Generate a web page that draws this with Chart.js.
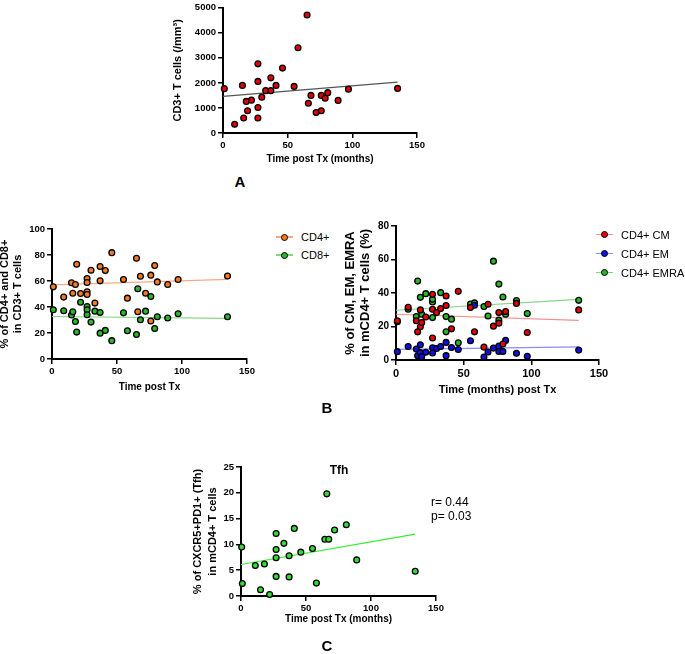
<!DOCTYPE html>
<html>
<head>
<meta charset="utf-8">
<script src="https://cdn.jsdelivr.net/npm/chart.js@4.4.1/dist/chart.umd.min.js"></script>
<style>
  body { margin: 0; background: #fff; }
  #page { position: relative; width: 685px; height: 654px; overflow: hidden; font-family: 'Liberation Sans', Arial, sans-serif; color: #000; }
  canvas, .txt, .legend { position: absolute; }
  .panel { font-weight: bold; font-size: 15px; transform: translate(-50%, -50%); }
  .legend { font-size: 11px; }
  .legend .row { display: flex; align-items: center; }
  .legend .mark { position: relative; width: 17px; height: 10px; }
  .legend .mark .ln { position: absolute; left: 0; right: 0; top: 4px; height: 1.5px; }
  .legend .mark .dot { position: absolute; left: 5px; top: 1.5px; width: 5px; height: 5px; border: 1.3px solid #000; border-radius: 50%; }
</style>
</head>
<body>
<div id="page">
  <canvas id="chartA" width="275" height="170" style="left:155px;top:0px"></canvas>
  <canvas id="chartB1" width="264" height="185" style="left:-4px;top:215px"></canvas>
  <canvas id="chartB2" width="282" height="200" style="left:330px;top:205px"></canvas>
  <canvas id="chartC" width="259" height="175" style="left:190px;top:455px"></canvas>

  <div class="txt panel" style="left:240px;top:181px">A</div>
  <div class="txt panel" style="left:327px;top:407px">B</div>
  <div class="txt panel" style="left:327px;top:645px">C</div>
  <div class="txt" style="left:339px;top:470px;font-weight:bold;font-size:12px;transform:translate(-50%,-50%)">Tfh</div>
  <div class="txt" style="left:431px;top:495px;font-size:12px;line-height:14px">r= 0.44<br>p= 0.03</div>

  <div class="legend" id="legendB1" style="left:276px;top:228px"></div>
  <div class="legend" id="legendB2" style="left:596px;top:225px"></div>
</div>

<script>
// ---- Data ----

// A: CD3+ T cells vs months post Tx
const monthsA = [1, 9, 15, 16, 18, 19, 22, 27, 27, 27, 27, 30, 33, 37, 37, 41, 46, 55, 58, 65, 66, 68, 72, 76, 76, 79, 81, 89, 97, 135];
const cd3A = [1770, 350, 1900, 600, 1260, 890, 1310, 2760, 2060, 1020, 600, 1430, 1690, 2200, 1690, 1900, 2590, 1860, 3400, 4710, 1190, 1500, 820, 890, 1500, 1390, 1610, 1300, 1750, 1780];
const fitXA = [0, 135];
const fitA = [1460, 2030];

// B (left): % CD4+ / CD8+ in CD3+ T cells
const monthsCD4 = [1, 9, 15, 16, 18, 19, 22, 27, 27, 27, 27, 30, 33, 37, 37, 41, 46, 55, 58, 65, 66, 68, 72, 76, 76, 79, 81, 89, 97, 135];
const cd4 = [55.5, 47.6, 58.6, 50.6, 57.3, 72.9, 50.4, 61.9, 58.8, 51.7, 49.6, 68.3, 43, 71.1, 60.1, 68, 81.8, 61.1, 46.8, 77.5, 36.3, 63.7, 50.6, 64.5, 29.2, 71.9, 59.3, 57.3, 61.1, 63.9];
const monthsCD8 = [1, 9, 15, 16, 18, 19, 22, 27, 27, 27, 30, 33, 37, 37, 41, 46, 55, 58, 65, 66, 68, 72, 76, 79, 81, 89, 97, 135];
const cd8 = [37.9, 37.1, 33.8, 36.3, 28.9, 20.7, 43.7, 40.4, 37.9, 34, 28.4, 36.8, 35.8, 19.9, 22, 14.1, 35.5, 21.7, 18.9, 54, 30.2, 36.8, 48.1, 23.5, 32.5, 31.5, 34.8, 32.5];
const fitXB = [0, 135];
const fitCD4 = [57, 61.2];
const fitCD8 = [32.7, 31.2];

// B (right): % CM / EM / EMRA in mCD4+ T cells
const monthsCM = [1, 9, 15, 16, 18, 18, 19, 22, 27, 27, 27, 30, 33, 37, 37, 41, 46, 55, 58, 65, 68, 72, 76, 76, 79, 81, 89, 97, 135];
const cm = [23.4, 31.5, 23.4, 16.8, 29.9, 19.8, 22.4, 25.7, 39.2, 30.3, 13.1, 28.3, 30.7, 38.2, 32.5, 18.6, 41, 31.3, 16.8, 7.7, 33.3, 20.2, 22, 28.3, 9.5, 29, 33.8, 16.4, 29.9];
const monthsEM = [1, 9, 15, 16, 18, 18, 19, 22, 27, 27, 30, 33, 37, 37, 41, 46, 55, 58, 65, 68, 72, 76, 76, 79, 81, 89, 97, 135];
const em = [5, 8.1, 6.5, 2.6, 9.1, 4.4, 2, 4.6, 7.3, 4.2, 6.9, 8.1, 10.5, 2.6, 7.5, 6.3, 11.5, 32.7, 1.8, 4.8, 7.1, 8.3, 5.1, 5.1, 11.7, 4, 2.2, 5.9];
const monthsEMRA = [1, 9, 15, 16, 18, 19, 22, 27, 27, 27, 33, 37, 37, 41, 46, 55, 58, 65, 68, 72, 76, 76, 79, 81, 89, 97, 135];
const emra = [22.8, 30.3, 25.9, 47.1, 37.4, 27.3, 39.6, 34.7, 36.2, 25.3, 40.2, 25.9, 16.8, 24.4, 10.3, 33.4, 34.1, 31.9, 26.3, 59, 45.3, 23.8, 37.6, 27.3, 35.5, 27.7, 35.6];
const fitCM = [27.3, 23.6];
const fitEM = [6.4, 7.8];
const fitEMRA = [29.7, 36.2];

// C: Tfh
const monthsTfh = [0.5, 1, 11, 15, 18, 22, 27, 27, 27, 27, 33, 37, 37, 41, 46, 55, 58, 64.5, 66, 67.5, 72, 81, 89, 134];
const tfh = [9.5, 2.4, 5.9, 1.2, 6.2, 0.3, 12.1, 9, 7.4, 3.8, 10.2, 7.8, 3.7, 13.1, 8.5, 9.2, 2.5, 11, 19.8, 11, 12.8, 13.8, 7, 4.8];
const fitXC = [0, 134];
const fitTfh = [6.1, 12];

const xTicks = [0, 50, 100, 150];

// ---- Helpers ----
const FONT = "'Liberation Sans', Arial, sans-serif";
Chart.defaults.font.family = FONT;

function pairs(xs, ys) {
  return xs.map((x, i) => ({ x: x, y: ys[i] }));
}

function points(xs, ys, fill) {
  return {
    data: pairs(xs, ys),
    backgroundColor: fill,
    borderColor: '#000',
    borderWidth: 1.3,
    pointRadius: 2.9,
    clip: false,
    order: 1
  };
}

function fitLine(xs, ys, color) {
  return {
    data: pairs(xs, ys),
    showLine: true,
    pointRadius: 0,
    borderColor: color,
    borderWidth: 1.2,
    clip: false,
    order: 5
  };
}

// Prism-style axis: thick black line, outward ticks, bold labels
function axis(o) {
  return {
    type: 'linear',
    min: o.min,
    max: o.max,
    afterBuildTicks: o.ticks ? s => { s.ticks = o.ticks.map(v => ({ value: v })); } : undefined,
    ticks: {
      stepSize: o.step, color: '#000', padding: 2,
      callback: v => String(v),
      font: { weight: 'bold', size: o.tickSize || 9.5 }
    },
    grid: { drawOnChartArea: false, drawTicks: true, tickLength: 5, color: '#000', lineWidth: 1.5 },
    border: { display: true, color: '#000', width: 2 },
    title: {
      display: true, text: o.title, color: '#000',
      font: { weight: 'bold', size: o.titleSize || 10, lineHeight: o.lineHeight || 1.2 },
      padding: o.titlePad
    },
    afterFit: o.horizontal ? s => { s.height = o.size; } : s => { s.width = o.size; }
  };
}

function makeChart(id, datasets, xAxis, yAxis, pad) {
  return new Chart(document.getElementById(id), {
    type: 'scatter',
    data: { datasets: datasets },
    options: {
      responsive: false,
      animation: false,
      events: [],
      layout: { padding: pad },
      plugins: { legend: { display: false }, tooltip: { enabled: false } },
      scales: { x: xAxis, y: yAxis }
    }
  });
}

function buildLegend(id, items) {
  const box = document.getElementById(id);
  items.forEach(it => {
    const row = document.createElement('div');
    row.className = 'row';
    row.style.height = it.h + 'px';
    row.innerHTML = '<div class="mark"><div class="ln" style="background:' + it.line + '"></div>' +
      '<div class="dot" style="background:' + it.fill + '"></div></div>' +
      '<span style="margin-left:8px">' + it.label + '</span>';
    box.appendChild(row);
  });
}

// ---- A ----
makeChart('chartA',
  [points(monthsA, cd3A, '#e60000'), fitLine(fitXA, fitA, '#555555')],
  axis({ min: 0, max: 150, ticks: xTicks, horizontal: true, size: 37, title: 'Time post Tx (months)', titlePad: { top: 0, bottom: 5 } }),
  axis({ min: 0, max: 5000, step: 1000, size: 68, title: 'CD3+ T cells (/mm³)', titleSize: 11, titlePad: { top: 16, bottom: 0 } }),
  { top: 5, right: 13, left: 0, bottom: 0 });

// ---- B left ----
makeChart('chartB1',
  [points(monthsCD4, cd4, '#f97a1f'), points(monthsCD8, cd8, '#27b927'),
   fitLine(fitXB, fitCD4, '#f6a88a'), fitLine(fitXB, fitCD8, '#86d686')],
  axis({ min: 0, max: 150, ticks: xTicks, horizontal: true, size: 41, title: 'Time post Tx', titlePad: { top: 0, bottom: 7 } }),
  axis({ min: 0, max: 100, step: 20, size: 56, title: ['% of CD4+ and CD8+', 'in CD3+ T cells'], titleSize: 11, lineHeight: 1.18, titlePad: { top: 2.5, bottom: 0 } }),
  { top: 14, right: 13, left: 0, bottom: 0 });

buildLegend('legendB1', [
  { label: 'CD4+', fill: '#f97a1f', line: '#f6a88a', h: 18 },
  { label: 'CD8+', fill: '#27b927', line: '#86d686', h: 18 }
]);

// ---- B right ----
makeChart('chartB2',
  [points(monthsCM, cm, '#ee0000'), points(monthsEM, em, '#1010e8'), points(monthsEMRA, emra, '#22b922'),
   fitLine(fitXB, fitCM, '#f29090'), fitLine(fitXB, fitEM, '#8c8cf5'), fitLine(fitXB, fitEMRA, '#86d686')],
  axis({ min: 0, max: 150, ticks: xTicks, horizontal: true, size: 45, tickSize: 11, title: 'Time (months) post Tx', titleSize: 11, titlePad: { top: 0, bottom: 8 } }),
  axis({ min: 0, max: 80, step: 20, size: 66, tickSize: 10, title: ['% of CM, EM, EMRA', 'in mCD4+ T cells (%)'], titleSize: 13, lineHeight: 1.15, titlePad: { top: 12.5, bottom: 0 } }),
  { top: 21, right: 13, left: 0, bottom: 0 });

buildLegend('legendB2', [
  { label: 'CD4+ CM', fill: '#ee0000', line: '#f29090', h: 19 },
  { label: 'CD4+ EM', fill: '#1010e8', line: '#8c8cf5', h: 19 },
  { label: 'CD4+ EMRA', fill: '#22b922', line: '#86d686', h: 19 }
]);

// ---- C ----
makeChart('chartC',
  [points(monthsTfh, tfh, '#33dd33'), fitLine(fitXC, fitTfh, '#33ee33')],
  axis({ min: 0, max: 150, ticks: xTicks, horizontal: true, size: 34, title: 'Time post Tx (months)', titlePad: { top: 0, bottom: 5 } }),
  axis({ min: 0, max: 25, step: 5, size: 51, title: ['% of CXCR5+PD1+ (Tfh)', 'in mCD4+ T cells'], titleSize: 11, lineHeight: 1.36, titlePad: { top: 0.5, bottom: 0 } }),
  { top: 12, right: 13, left: 0, bottom: 0 });
</script>
</body>
</html>
